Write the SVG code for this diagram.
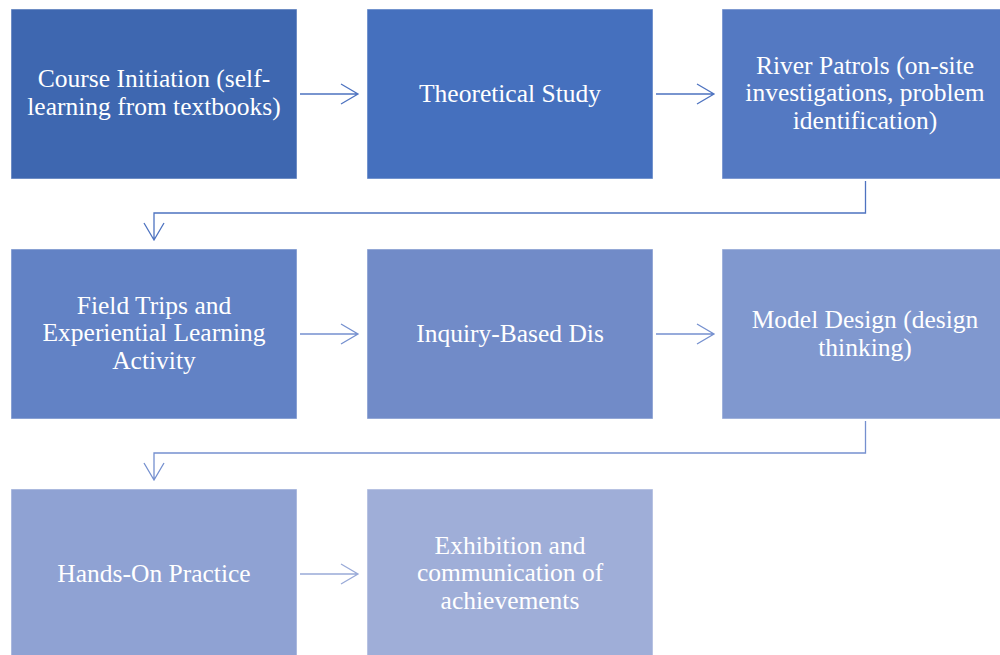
<svg xmlns="http://www.w3.org/2000/svg" width="1000" height="655" viewBox="0 0 1000 655">
<style>
.box{stroke:#ffffff;stroke-opacity:0.5;stroke-width:1}
.t{font-family:'Liberation Serif','DejaVu Serif',serif;font-size:25.5px;fill:#ffffff;text-anchor:middle}
.c{fill:none;stroke-width:1.3}
</style>
<rect width="1000" height="655" fill="#ffffff"/>
<g id="connectors">
<g stroke="#4E73C0" class="c">
<path d="M300 94H357M341 84L358 94L341 104"/>
<path d="M656 94H713M697 84L714 94L697 104"/>
<path d="M865.5 181V213H154V239M144 223L154 240L164 223"/>
</g>
<g stroke="#7590CF" class="c">
<path d="M300 334H357M341 324L358 334L341 344"/>
<path d="M656 334H713M697 324L714 334L697 344"/>
<path d="M865.5 421V453H154V479M144 463L154 480L164 463"/>
</g>
<g stroke="#99AAD8" class="c">
<path d="M300 574H357M341 564L358 574L341 584"/>
</g>
</g>
<g id="n1"><rect class="box" x="11" y="9" width="286" height="170" fill="#3E67B0"/>
<text class="t" font-family="Liberation Serif, serif" x="154" y="87">Course Initiation (self-</text><text class="t" font-family="Liberation Serif, serif" x="154" y="115">learning from textbooks)</text></g>
<g id="n2"><rect class="box" x="367" y="9" width="286" height="170" fill="#4570BE"/>
<text class="t" font-family="Liberation Serif, serif" x="510" y="102">Theoretical Study</text></g>
<g id="n3"><rect class="box" x="722" y="9" width="286" height="170" fill="#5479C2"/>
<text class="t" font-family="Liberation Serif, serif" x="865" y="74">River Patrols (on-site</text><text class="t" font-family="Liberation Serif, serif" x="865" y="101">investigations, problem</text><text class="t" font-family="Liberation Serif, serif" x="865" y="129">identification)</text></g>
<g id="n4"><rect class="box" x="11" y="249" width="286" height="170" fill="#6282C5"/>
<text class="t" font-family="Liberation Serif, serif" x="154" y="314">Field Trips and</text><text class="t" font-family="Liberation Serif, serif" x="154" y="341">Experiential Learning</text><text class="t" font-family="Liberation Serif, serif" x="154" y="369">Activity</text></g>
<g id="n5"><rect class="box" x="367" y="249" width="286" height="170" fill="#718BC8"/>
<text class="t" font-family="Liberation Serif, serif" x="510" y="342">Inquiry-Based Dis</text></g>
<g id="n6"><rect class="box" x="722" y="249" width="286" height="170" fill="#8098CF"/>
<text class="t" font-family="Liberation Serif, serif" x="865" y="328">Model Design (design</text><text class="t" font-family="Liberation Serif, serif" x="865" y="356">thinking)</text></g>
<g id="n7"><rect class="box" x="11" y="489" width="286" height="170" fill="#8FA2D3"/>
<text class="t" font-family="Liberation Serif, serif" x="154" y="582">Hands-On Practice</text></g>
<g id="n8"><rect class="box" x="367" y="489" width="286" height="170" fill="#9FAED8"/>
<text class="t" font-family="Liberation Serif, serif" x="510" y="554">Exhibition and</text><text class="t" font-family="Liberation Serif, serif" x="510" y="581">communication of</text><text class="t" font-family="Liberation Serif, serif" x="510" y="609">achievements</text></g>
</svg>
